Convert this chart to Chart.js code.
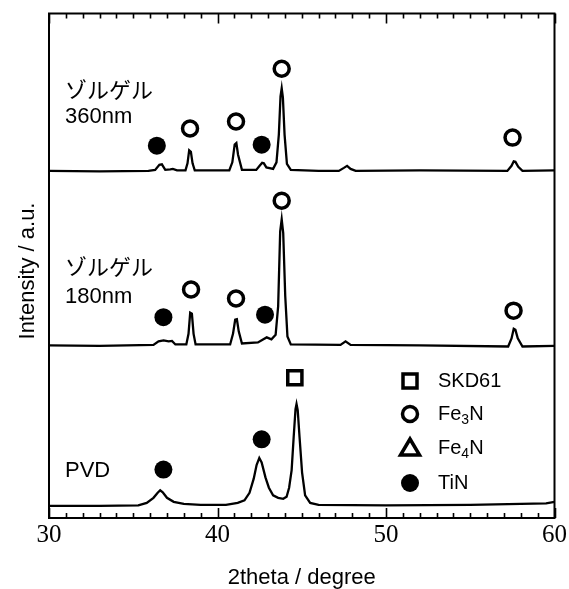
<!DOCTYPE html>
<html>
<head>
<meta charset="utf-8">
<script src="https://cdn.jsdelivr.net/npm/chart.js@4.4.1/dist/chart.umd.min.js"></script>
<style>
  body { margin: 0; background: #fff; }
  canvas { display: block; }
</style>
</head>
<body>
<canvas id="xrd" width="569" height="589"></canvas>
<script>
// ---- data (y in arbitrary stacked units, 0..100) ----
const twoTheta360 = [30, 33, 35.9, 36.3, 36.55, 36.7, 36.9, 37.2, 37.35, 37.6, 38.1, 38.22, 38.32, 38.42, 38.52, 38.65,
  40.7, 40.88, 41.02, 41.12, 41.22, 41.45, 42.3, 42.5, 42.65, 42.75, 42.9, 43.3, 43.5, 43.64, 43.74, 43.81, 43.88, 43.98, 44.12, 44.35,
  46, 47.2, 47.5, 47.69, 47.9, 48.2, 52, 57.2, 57.45, 57.58, 57.68, 57.85, 58.1, 60];
const intensity360 = [68.8, 68.7, 68.8, 69.0, 70.0, 70.1, 69.0, 69.1, 69.2, 68.9, 68.9, 70.3, 72.9, 72.6, 70.3, 68.9,
  68.9, 70.5, 74.0, 74.3, 72.0, 69.0, 69.0, 69.8, 70.4, 70.3, 69.5, 69.2, 70.5, 76, 83.6, 85.2, 83.4, 76, 70.2, 69.0,
  68.8, 68.8, 69.4, 69.8, 69.2, 68.8, 68.9, 68.8, 69.8, 70.7, 70.6, 69.6, 68.8, 68.9];

const twoTheta180 = [30, 33, 36.2, 36.5, 36.8, 37.1, 37.3, 37.5, 38.15, 38.28, 38.38, 38.48, 38.58, 38.7,
  40.75, 40.92, 41.05, 41.15, 41.26, 41.45, 42.4, 42.7, 42.92, 43.2, 43.45, 43.6, 43.72, 43.81, 43.9, 44.02, 44.15, 44.35,
  47.3, 47.6, 47.9, 52, 57.25, 57.45, 57.58, 57.68, 57.82, 58.1, 60];
const intensity180 = [34.2, 34.1, 34.3, 35.0, 35.2, 35.0, 35.1, 34.4, 34.4, 36.5, 40.7, 40.5, 36.5, 34.4,
  34.4, 36.5, 39.3, 39.4, 37, 34.6, 34.8, 35.4, 35.8, 35.4, 36.3, 42, 56.8, 59.2, 56.5, 44, 36, 34.4,
  34.3, 35.0, 34.3, 34.2, 34.0, 35.6, 37.5, 37.3, 35.6, 34.0, 34.1];

const twoThetaPVD = [30, 33, 35.3, 35.8, 36.2, 36.45, 36.6, 36.75, 37.0, 37.4, 38, 39, 40.5, 41.2, 41.6, 41.9, 42.15, 42.32,
  42.48, 42.62, 42.85, 43.05, 43.3, 43.6, 43.9, 44.1, 44.25, 44.4, 44.52, 44.63, 44.69, 44.76, 44.87, 45.02, 45.2, 45.5,
  46, 50, 55, 59.5, 60];
const intensityPVD = [2.4, 2.4, 2.5, 3.0, 4.0, 5.0, 5.5, 5.1, 4.0, 3.2, 2.8, 2.6, 2.6, 3.0, 3.5, 5, 7.8, 10.5,
  11.9, 11.0, 8, 6, 4.5, 4.0, 3.8, 4.2, 6, 9.5, 16, 21.6, 22.6, 21.4, 16, 9, 4.5, 3.0,
  2.6, 2.5, 2.6, 2.9, 3.2];

// peak markers
const fe3nX = [38.37, 41.10, 43.81, 57.51, 38.43, 41.10, 43.81, 57.57];
const fe3nY = [77.2, 78.6, 89.05, 75.4, 45.3, 43.5, 62.9, 41.1];
const tinX = [36.40, 42.62, 36.79, 42.82, 36.79, 42.62];
const tinY = [73.8, 74.0, 39.8, 40.3, 9.6, 15.6];
const skd61X = [44.59];
const skd61Y = [27.8];

const xTicks = [30, 40, 50, 60];

function pts(xs, ys) {
  return xs.map((x, i) => ({ x: x, y: ys[i] }));
}

const lineStyle = { showLine: true, borderColor: '#000', borderWidth: 2.3, pointRadius: 0, tension: 0, fill: false };

const sans = '"Liberation Sans", Arial, "Noto Sans CJK JP", sans-serif';

// box, inward ticks, texts and legend
const decor = {
  id: 'decor',
  afterDraw(chart) {
    const ctx = chart.ctx;
    const a = chart.chartArea;
    const xs = chart.scales.x;
    const ys = chart.scales.y;
    ctx.save();
    ctx.strokeStyle = '#000';
    ctx.lineWidth = 2;
    ctx.strokeRect(a.left, a.top, a.right - a.left, a.bottom - a.top);
    ctx.lineWidth = 1.6;
    for (let v = 30; v <= 60; v++) {
      const px = Math.round(xs.getPixelForValue(v)) + 0.5;
      const len = v % 10 === 0 ? 10 : 5;
      ctx.beginPath();
      ctx.moveTo(px, a.bottom); ctx.lineTo(px, a.bottom - len);
      ctx.moveTo(px, a.top); ctx.lineTo(px, a.top + len);
      ctx.stroke();
    }

    ctx.fillStyle = '#000';
    ctx.font = '22px ' + sans;
    ctx.textBaseline = 'alphabetic';
    ctx.textAlign = 'left';
    const labels = [
      ['ゾルゲル', 30.95, 83.3], ['360nm', 30.95, 78.2],
      ['ゾルゲル', 30.95, 48.1], ['180nm', 30.95, 42.7],
      ['PVD', 30.95, 8.1]
    ];
    labels.forEach(l => ctx.fillText(l[0], xs.getPixelForValue(l[1]), ys.getPixelForValue(l[2])));

    // axis titles
    ctx.textAlign = 'center';
    ctx.fillText('2theta / degree', (a.left + a.right) / 2, 584);
    ctx.save();
    ctx.translate(28, 271);
    ctx.rotate(-Math.PI / 2);
    ctx.textBaseline = 'middle';
    ctx.fillText('Intensity / a.u.', 0, 0);
    ctx.restore();

    // legend
    const lx = 410, tx = 438;
    const rows = [381, 414, 448, 483];
    ctx.lineWidth = 3.5;
    ctx.fillStyle = '#fff';
    ctx.beginPath(); ctx.rect(lx - 7, rows[0] - 7, 14, 14); ctx.fill(); ctx.stroke();
    ctx.beginPath(); ctx.arc(lx, rows[1], 7.5, 0, Math.PI * 2); ctx.fill(); ctx.stroke();
    ctx.beginPath();
    ctx.moveTo(lx, rows[2] - 9);
    ctx.lineTo(lx + 9.5, rows[2] + 7);
    ctx.lineTo(lx - 9.5, rows[2] + 7);
    ctx.closePath(); ctx.fill(); ctx.stroke();
    ctx.fillStyle = '#000';
    ctx.beginPath(); ctx.arc(lx, rows[3], 9, 0, Math.PI * 2); ctx.fill();

    ctx.textAlign = 'left';
    ctx.textBaseline = 'middle';
    ctx.font = '20px ' + sans;
    ctx.fillText('SKD61', tx, rows[0]);
    ctx.fillText('TiN', tx, rows[3]);
    [['Fe', '3', 'N', rows[1]], ['Fe', '4', 'N', rows[2]]].forEach(r => {
      ctx.font = '20px ' + sans;
      let w = ctx.measureText(r[0]).width;
      ctx.fillText(r[0], tx, r[3]);
      ctx.font = '14px ' + sans;
      ctx.fillText(r[1], tx + w, r[3] + 6);
      const w2 = ctx.measureText(r[1]).width;
      ctx.font = '20px ' + sans;
      ctx.fillText(r[2], tx + w + w2, r[3]);
    });
    ctx.restore();
  }
};

new Chart(document.getElementById('xrd'), {
  type: 'scatter',
  data: {
    datasets: [
      Object.assign({ label: 'ゾルゲル 360nm', data: pts(twoTheta360, intensity360) }, lineStyle),
      Object.assign({ label: 'ゾルゲル 180nm', data: pts(twoTheta180, intensity180) }, lineStyle),
      Object.assign({ label: 'PVD', data: pts(twoThetaPVD, intensityPVD) }, lineStyle),
      { label: 'Fe3N', data: pts(fe3nX, fe3nY), pointStyle: 'circle', pointRadius: 7.5,
        pointBackgroundColor: '#fff', pointBorderColor: '#000', pointBorderWidth: 3.5 },
      { label: 'TiN', data: pts(tinX, tinY), pointStyle: 'circle', pointRadius: 9,
        pointBackgroundColor: '#000', pointBorderColor: '#000', pointBorderWidth: 0 },
      { label: 'SKD61', data: pts(skd61X, skd61Y), pointStyle: 'rect', pointRadius: 10,
        pointBackgroundColor: '#fff', pointBorderColor: '#000', pointBorderWidth: 3.5 }
    ]
  },
  options: {
    responsive: false,
    animation: false,
    devicePixelRatio: 1,
    layout: { padding: { left: 49, top: 13, right: 14, bottom: 0 } },
    plugins: { legend: { display: false }, tooltip: { enabled: false } },
    scales: {
      x: {
        type: 'linear', min: 30, max: 60,
        grid: { display: false, drawTicks: false },
        border: { display: false },
        afterBuildTicks: s => { s.ticks = xTicks.map(v => ({ value: v })); },
        afterFit: s => { s.height = 71; },
        ticks: { color: '#000', padding: 2, maxRotation: 0,
                 font: { family: '"Liberation Serif", "Times New Roman", serif', size: 25 } }
      },
      y: { type: 'linear', min: 0, max: 100, display: false }
    }
  },
  plugins: [decor]
});
</script>
</body>
</html>
